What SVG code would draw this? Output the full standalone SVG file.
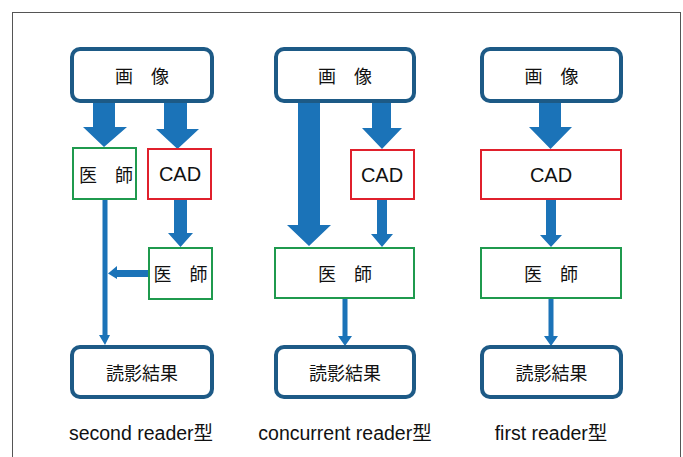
<svg xmlns="http://www.w3.org/2000/svg" width="683" height="457" viewBox="0 0 683 457">
<style>
.frame{fill:#ffffff;stroke:#555;stroke-width:1}
.io{fill:#fff;stroke:#1d5a86;stroke-width:4}
.doc{fill:#fff;stroke:#1f9a4e;stroke-width:2}
.cad{fill:#fff;stroke:#e0202c;stroke-width:2}
.arr{fill:#1b73b8;stroke:none}
.jp{font-family:"Noto Sans CJK JP","Noto Sans CJK SC",sans-serif;font-size:18px;fill:#111;text-anchor:middle;dominant-baseline:central}
.en{font-family:"Liberation Sans",Arial,sans-serif;font-size:20px;fill:#111;text-anchor:middle;dominant-baseline:central}
.lbl{font-family:"Liberation Sans","Noto Sans CJK JP",sans-serif;font-size:19.5px;fill:#111;text-anchor:middle}
</style>
<rect class="frame" x="12.5" y="12.5" width="668" height="470"/>
<g id="connectors">
<polygon class="arr" points="93,101 115,101 115,127 127,127 104,147 83,127 93,127"/>
<polygon class="arr" points="164,101 187,101 187,129 199,129 177.5,149 156,129 164,129"/>
<polygon class="arr" points="174,199 187,199 187,233 193,233 180.5,247 168,233 174,233"/>
<polygon class="arr" points="102.5,199 107.5,199 107.5,335 110,335 105,345 99,335 102.5,335"/>
<polygon class="arr" points="149,270 117,270 117,266 108,273.5 117,279 117,277 149,277"/>
<polygon class="arr" points="298,101 320,101 320,225 331,225 309,246 287,225 298,225"/>
<polygon class="arr" points="372,101 391,101 391,128 402,128 382,149 362,128 372,128"/>
<polygon class="arr" points="377,199 387,199 387,234 393,234 382,247 371,234 377,234"/>
<polygon class="arr" points="342.5,298 347.5,298 347.5,336 352,336 345,346 338,336 342.5,336"/>
<polygon class="arr" points="548.5,298 553.5,298 553.5,336 558,336 551,346 544,336 548.5,336"/>
<polygon class="arr" points="539,101 561,101 561,127 572,127 550.5,149 529,127 539,127"/>
<polygon class="arr" points="546,199 556,199 556,235 562,235 551,247 540,235 546,235"/>
</g>
<g id="image1"><rect class="io" x="72" y="49" width="140" height="52" rx="8"/><text class="jp" x="142" y="75">画　像</text></g>
<g id="doctor1a"><rect class="doc" x="73" y="148" width="63" height="51"/><text class="jp" x="106" y="174">医　師</text></g>
<g id="cad1"><rect class="cad" x="148" y="149" width="63" height="50"/><text class="en" x="180" y="174">CAD</text></g>
<g id="doctor1b"><rect class="doc" x="149" y="248" width="63" height="51"/><text class="jp" x="180.5" y="273">医　師</text></g>
<g id="result1"><rect class="io" x="72" y="347" width="140" height="50" rx="8"/><text class="jp" x="142" y="372">読影結果</text></g>
<g id="image2"><rect class="io" x="276" y="49" width="138" height="52" rx="8"/><text class="jp" x="345" y="75">画　像</text></g>
<g id="cad2"><rect class="cad" x="351" y="150" width="63" height="49"/><text class="en" x="382" y="175">CAD</text></g>
<g id="doctor2"><rect class="doc" x="275" y="248" width="139" height="50"/><text class="jp" x="345" y="273">医　師</text></g>
<g id="result2"><rect class="io" x="276" y="347" width="138" height="50" rx="8"/><text class="jp" x="345" y="372">読影結果</text></g>
<g id="image3"><rect class="io" x="482" y="49" width="139" height="52" rx="8"/><text class="jp" x="551.5" y="75">画　像</text></g>
<g id="cad3"><rect class="cad" x="481" y="150" width="140" height="49"/><text class="en" x="551" y="175">CAD</text></g>
<g id="doctor3"><rect class="doc" x="481" y="248" width="140" height="50"/><text class="jp" x="551" y="273">医　師</text></g>
<g id="result3"><rect class="io" x="482" y="347" width="139" height="50" rx="8"/><text class="jp" x="551.5" y="372">読影結果</text></g>
<g id="labels">
<text class="lbl" x="141" y="440">second reader型</text>
<text class="lbl" x="345" y="440">concurrent reader型</text>
<text class="lbl" x="551" y="440">first reader型</text>
</g>
</svg>
